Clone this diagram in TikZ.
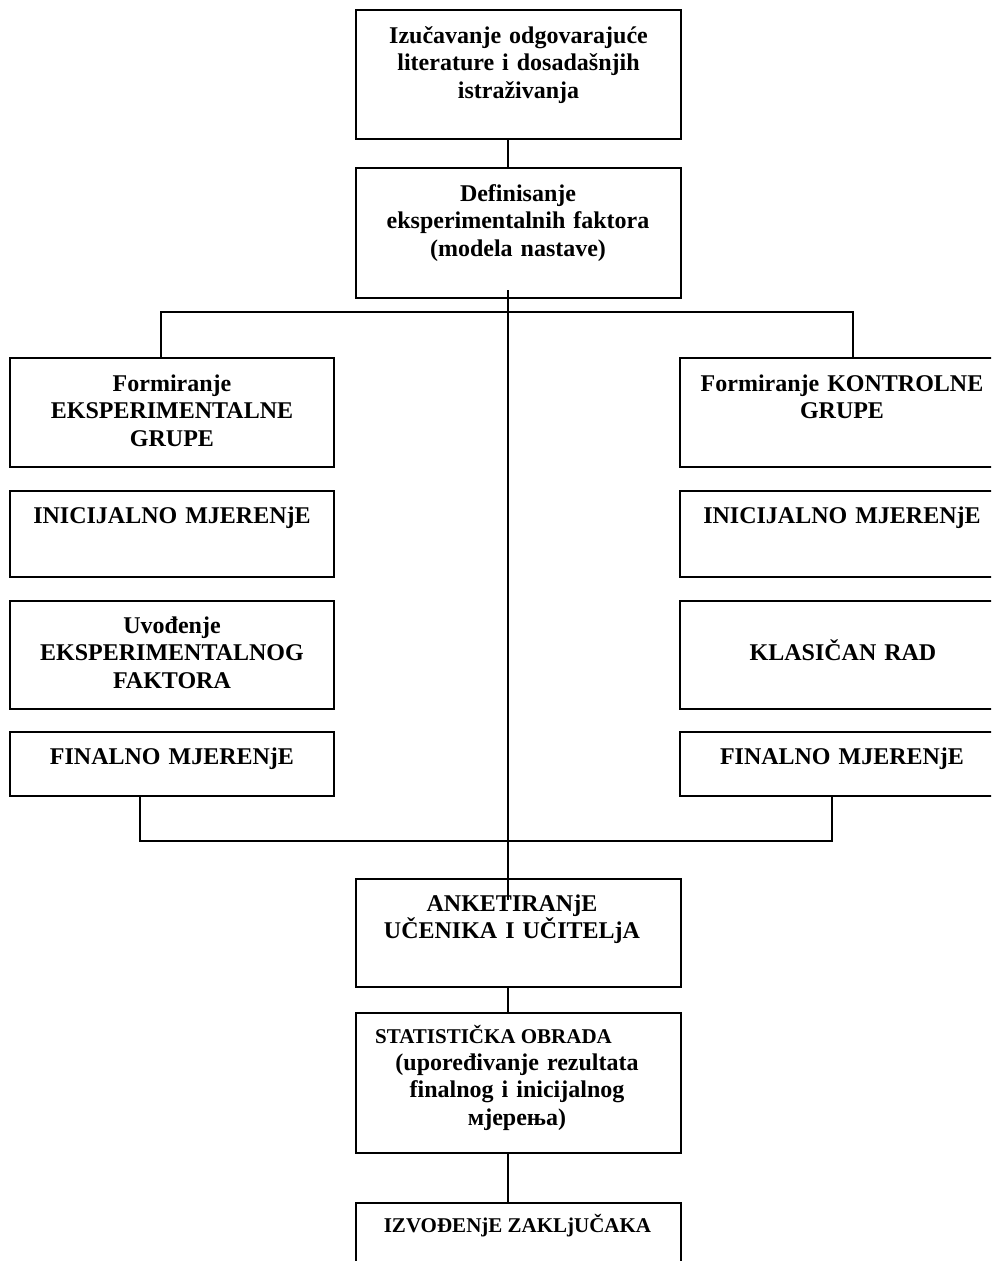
\documentclass[tikz,border=0pt]{standalone}
\usepackage{fontspec}
\setmainfont{Liberation Serif}
\begin{document}
\begin{tikzpicture}[x=1pt,y=-1pt,
  box/.style={draw, line width=1.6pt, rectangle, inner sep=0pt, outer sep=0pt, anchor=north west},
  txt/.style={font=\fontsize{24}{27.5}\selectfont\bfseries, align=center, text width=320pt, inner sep=0pt, anchor=base},
  stxt/.style={font=\fontsize{21}{27.5}\selectfont\bfseries, inner sep=0pt},
  conn/.style={line width=1.3pt}]
\clip (0,0) rectangle (991,1261);
\fill[white] (0,0) rectangle (991,1261);
% boxes
\node[box, minimum width=325pt, minimum height=129pt] (b1) at (356,10) {};
\node[box, minimum width=325pt, minimum height=130pt] (b2) at (356,168) {};
\node[box, minimum width=324pt, minimum height=109pt] (L1) at (10,358) {};
\node[box, minimum width=324pt, minimum height=86pt]  (L2) at (10,491) {};
\node[box, minimum width=324pt, minimum height=108pt] (L3) at (10,601) {};
\node[box, minimum width=324pt, minimum height=64pt]  (L4) at (10,732) {};
\node[box, minimum width=324pt, minimum height=109pt] (R1) at (680,358) {};
\node[box, minimum width=324pt, minimum height=86pt]  (R2) at (680,491) {};
\node[box, minimum width=324pt, minimum height=108pt] (R3) at (680,601) {};
\node[box, minimum width=324pt, minimum height=64pt]  (R4) at (680,732) {};
\node[box, minimum width=325pt, minimum height=108pt] (A) at (356,879) {};
\node[box, minimum width=325pt, minimum height=140pt] (S) at (356,1013) {};
\node[box, minimum width=325pt, minimum height=90pt]  (Z) at (356,1203) {};
% texts
\node[txt] (t1) at (518.5,43) {Izučavanje odgovarajuće\\literature i dosadašnjih\\istraživanja};
\node[txt] (t2) at (518,201) {Definisanje\\eksperimentalnih faktora\\(modela nastave)};
\node[txt] (tL1) at (172,391) {Formiranje\\EKSPERIMENTALNE\\GRUPE};
\node[txt] (tL2) at (172,523) {INICIJALNO MJERENjE};
\node[txt] (tL3) at (172,633) {Uvođenje\\EKSPERIMENTALNOG\\FAKTORA};
\node[txt] (tL4) at (172,764) {FINALNO MJERENjE};
\node[txt] (tR1) at (842,391) {Formiranje KONTROLNE\\GRUPE};
\node[txt] (tR2) at (842,523) {INICIJALNO MJERENjE};
\node[txt] (tR3) at (843,660) {KLASIČAN RAD};
\node[txt] (tR4) at (842,764) {FINALNO MJERENjE};
\node[txt] (tA) at (512,911) {ANKETIRANjE\\UČENIKA I UČITELjA};
\node[stxt, anchor=base west] (tS1) at (375,1043) {STATISTIČKA OBRADA};
\node[txt] (tS2) at (517,1070) {(upoređivanje rezultata\\finalnog i inicijalnog\\мјерења)};
\node[stxt, anchor=base] (tZ) at (517.5,1232) {IZVOĐENjE ZAKLjUČAKA};
% connector guides
\coordinate (sp) at (508,0);
\coordinate (tl) at (161,312);
\coordinate (tr) at (853,312);
\coordinate (bl) at (140,841);
\coordinate (br) at (832,841);
% connectors
\draw[conn] (b1.south -| sp) -- (b2.north -| sp);
\draw[conn] ([yshift=8pt]b2.south -| sp) -- ([yshift=-21pt]A.north -| sp);
\draw[conn] (L1.north -| tl) -- (tl) -- (tr) -- (R1.north -| tr);
\draw[conn] (L4.south -| bl) -- (bl) -- (br) -- (R4.south -| br);
\draw[conn] (A.south -| sp) -- (S.north -| sp);
\draw[conn] (S.south -| sp) -- (Z.north -| sp);
\end{tikzpicture}
\end{document}
